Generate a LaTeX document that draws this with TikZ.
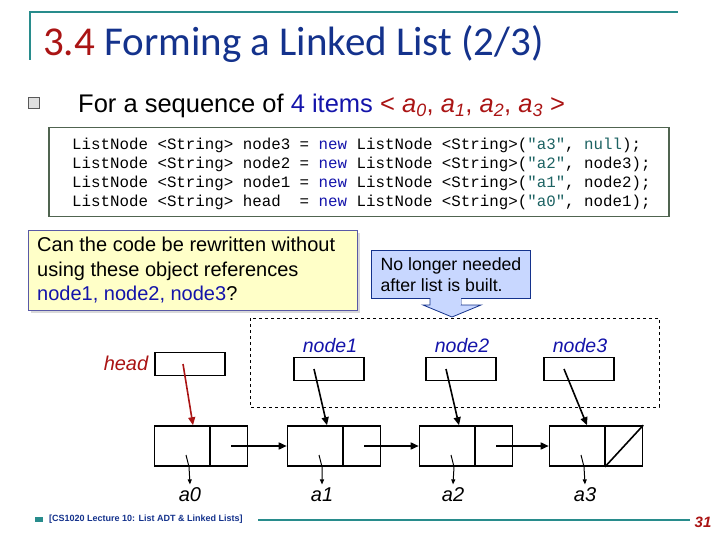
\documentclass[tikz,border=0pt]{standalone}
\usepackage{fontspec}
\setmainfont{Liberation Sans}
\newfontfamily\titlefont{Carlito}
\newfontfamily\codefont{Liberation Mono}
\usetikzlibrary{arrows.meta,shadows}
\definecolor{teal1}{RGB}{40,140,140}
\definecolor{tblue}{RGB}{20,50,140}
\definecolor{tred}{RGB}{170,20,20}
\definecolor{lblue}{RGB}{20,20,170}
\definecolor{cgreen}{RGB}{80,100,80}
\definecolor{yel}{RGB}{255,255,200}
\definecolor{cb}{RGB}{200,215,255}
\begin{document}
\begin{tikzpicture}[x=1pt,y=-1pt,
  ptr/.style={draw,line width=1.6pt,minimum width=70pt,minimum height=23pt,inner sep=0pt},
  cell/.style={draw,line width=1.6pt,minimum width=93pt,minimum height=40pt,inner sep=0pt},
  arr/.style={line width=1.6pt,-{Triangle[length=8pt,width=7pt]}},
  darr/.style={line width=1pt,-{Triangle[length=5pt,width=4pt]}},
  lbl/.style={font=\itshape\fontsize{19.5}{22}\selectfont,text=lblue},
  val/.style={font=\itshape\fontsize{20}{22}\selectfont}]
\useasboundingbox (0,0) rectangle (720,540);
% title
\draw[teal1,line width=1.5pt] (30,60) -- (30,12) -- (678,12);
\node[anchor=base west,inner sep=0pt,font=\titlefont\fontsize{41}{44}\selectfont] (title) at (43,56) {\textcolor{tred}{3.4}\ \textcolor{tblue}{Forming a Linked List (2/3)}};
% bullet
\node[draw=gray!70!black,fill=gray!25,minimum size=11pt,inner sep=0pt] (bul) at (34,103) {};
\node[anchor=base west,inner sep=0pt,font=\fontsize{25.5}{28}\selectfont] (seq) at (78,113) {For a sequence of \textcolor{lblue}{4 items} \textcolor{tred}{< \textit{a}\textsubscript{\textit{0}}, \textit{a}\textsubscript{\textit{1}}, \textit{a}\textsubscript{\textit{2}}, \textit{a}\textsubscript{\textit{3}} >}};
% code
\node[draw=cgreen,line width=1.5pt,minimum width=620pt,minimum height=89pt,anchor=north west] (code) at (48,127) {};
\node[anchor=north west,align=left,inner sep=0pt,font=\codefont\fontsize{15.8}{19}\selectfont] (ctext) at (72,138) {%
ListNode <String> node3 = \textcolor{lblue}{new} ListNode <String>(\textcolor{teal1!70!black}{"a3"}, \textcolor{teal1!70!black}{null});\\
ListNode <String> node2 = \textcolor{lblue}{new} ListNode <String>(\textcolor{teal1!70!black}{"a2"}, node3);\\
ListNode <String> node1 = \textcolor{lblue}{new} ListNode <String>(\textcolor{teal1!70!black}{"a1"}, node2);\\
ListNode <String> head\ \ = \textcolor{lblue}{new} ListNode <String>(\textcolor{teal1!70!black}{"a0"}, node1);};
% yellow box
\node[draw=gray!70!blue,fill=yel,line width=1pt,drop shadow={opacity=0.3},minimum width=329pt,minimum height=80pt,anchor=north west] (q) at (28,230) {};
\node[anchor=north west,align=left,inner sep=0pt,font=\fontsize{20}{24.5}\selectfont] (qt) at (37,237) {Can the code be rewritten without\\using these object references\\\textcolor{lblue}{node1, node2, node3}?};
% callout
\node[draw=tblue,fill=cb,line width=1pt,minimum width=159pt,minimum height=48pt,anchor=north west,align=left,font=\fontsize{17.7}{21}\selectfont,inner sep=0pt] (call) at (371,250) {No longer needed\\after list is built.};
\draw[tblue,fill=cb,line width=0.8pt] (430,298) -- (430,305) -- (423,305) -- (452,317) -- (481,305) -- (461,305) -- (461,298);
\fill[cb] (430.5,297) rectangle (460.5,305);
% dashed box
\draw[dashed,line width=0.6pt] (250,318) rectangle (659,407);
% labels
\node[lbl] (l1) at (330,346) {node1};
\node[lbl] (l2) at (462,346) {node2};
\node[lbl] (l3) at (580,346) {node3};
\node[val,text=tred] (lh) at (126,363) {head};
% pointer boxes
\node[ptr] (ph) at (190,364) {};
\node[ptr] (p1) at (329,369) {};
\node[ptr] (p2) at (461,369) {};
\node[ptr] (p3) at (579,369) {};
% list cells
\foreach \i/\x in {0/201,1/334,2/466,3/596}{
  \node[cell] (c\i) at (\x,446) {};
  \draw[line width=1.6pt] ([xshift=9pt]c\i.north) -- ([xshift=9pt]c\i.south);
}
\draw[line width=1.6pt] ([xshift=9pt]c3.south) -- (c3.north east);
% next arrows
\draw[arr] ([xshift=30pt]c0.center) -- (c1.west);
\draw[arr] ([xshift=30pt]c1.center) -- (c2.west);
\draw[arr] ([xshift=30pt]c2.center) -- (c3.west);
% pointer arrows
\draw[arr,tred] ([xshift=-7pt]ph.center) -- ([xshift=-8pt]c0.north);
\draw[arr] ([xshift=-15pt]p1.center) -- ([xshift=-7pt]c1.north);
\draw[arr] ([xshift=-15pt]p2.center) -- ([xshift=-7pt]c2.north);
\draw[arr] ([xshift=-15pt]p3.center) -- ([xshift=-9pt]c3.north);
% values
\foreach \i/\x in {0/190,1/322,2/453,3/585}{
  \node[val] (v\i) at (\x,495) {a\i};
  \draw[darr] ([xshift=-15pt,yshift=-9pt]c\i.center) -- ([xshift=-12pt]c\i.south) -- (v\i.north);
}
% footer
\fill[teal1] (35,517) rectangle (43,522) coordinate (fsq);
\node[anchor=west,inner sep=0pt,font=\bfseries\fontsize{9}{10}\selectfont,text=tblue] (foot) at (49,519) {[CS1020 Lecture 10: List ADT \& Linked Lists]};
\draw[teal1,line width=2.5pt] (258,520) -- (690,520);
\node[font=\bfseries\itshape\fontsize{15}{16}\selectfont,text=tred] (pg) at (703,522) {31};
\end{tikzpicture}
\end{document}
